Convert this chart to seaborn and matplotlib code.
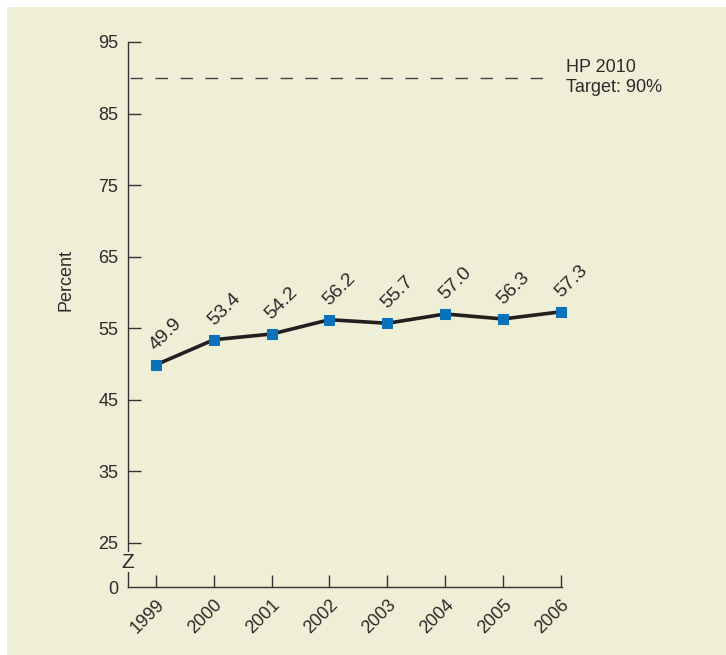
import matplotlib
matplotlib.use('Agg')
import matplotlib.pyplot as plt
import seaborn as sns
import pandas as pd
from matplotlib.patches import Rectangle

years = [1999, 2000, 2001, 2002, 2003, 2004, 2005, 2006]
percent = [49.9, 53.4, 54.2, 56.2, 55.7, 57.0, 56.3, 57.3]
target = 90
yticks = [25, 35, 45, 55, 65, 75, 85, 95]
zero_pos = 18.85  # where the broken axis shows "0"

df = pd.DataFrame({'year': years, 'percent': percent})

sns.set_style('white')
plt.rcParams['font.family'] = ['Liberation Sans', 'DejaVu Sans']
bg = '#efeed6'
ink = '#2b2b2b'

fig = plt.figure(figsize=(7.26, 6.55), dpi=100, facecolor=bg)
# white frame on top and left
fig.patches.append(Rectangle((0, 1 - 7 / 655), 1, 7 / 655, transform=fig.transFigure,
                             facecolor='white', edgecolor='none', zorder=-10))
fig.patches.append(Rectangle((0, 0), 7 / 726, 1, transform=fig.transFigure,
                             facecolor='white', edgecolor='none', zorder=-10))
ax = fig.add_axes([128 / 726, 1 - 587 / 655, 434 / 726, 545 / 655])
ax.set_facecolor('none')

sns.lineplot(data=df, x='year', y='percent', ax=ax, color='#231f20', linewidth=2.6,
             marker='s', markersize=7, markerfacecolor='#0a72ba', markeredgecolor='#0a72ba',
             clip_on=False, zorder=3)

for x, y in zip(years, percent):
    ax.annotate(f'{y:.1f}', (x, y), xytext=(2, 8), textcoords='offset points',
                rotation=45, rotation_mode='anchor', ha='left', va='bottom',
                fontsize=14, color=ink)

ax.axhline(target, xmin=0.005, xmax=0.96, color='#444444', linewidth=1, dashes=(9, 9))
ax.text(1.01, target, 'HP 2010\nTarget: 90%', transform=ax.get_yaxis_transform(),
        ha='left', va='center', fontsize=13, color=ink, linespacing=1.25, clip_on=False)

ax.set_xlim(1998.516, 2006.02)
ax.set_ylim(zero_pos, 95)
ax.set_xticks(years)
ax.set_xticklabels([str(y) for y in years], rotation=45, ha='right',
                   rotation_mode='anchor', fontsize=13, color=ink)
ax.set_yticks([zero_pos] + yticks)
ax.set_yticklabels(['0'] + [str(t) for t in yticks], fontsize=13, color=ink)
ax.tick_params(axis='both', direction='in', length=9, width=1, color='#333333',
               bottom=True, left=True)
ax.tick_params(axis='y', pad=7)
ax.tick_params(axis='x', pad=7)
ax.yaxis.get_major_ticks()[0].tick1line.set_visible(False)

for s in ['top', 'right']:
    ax.spines[s].set_visible(False)
for s in ['left', 'bottom']:
    ax.spines[s].set_color('#333333')
    ax.spines[s].set_linewidth(1)

# axis break mark
ax.text(0, 22.3, 'Z', transform=ax.get_yaxis_transform(), ha='center', va='center',
        fontsize=15, color=ink, clip_on=False,
        bbox=dict(facecolor=bg, edgecolor='none', pad=0.3))

ax.set_xlabel('')
ax.set_ylabel('Percent', fontsize=13, color=ink)
ax.yaxis.set_label_coords(-53 / 434, 0.563)

fig.savefig('out.png', dpi=100, facecolor=fig.get_facecolor())
